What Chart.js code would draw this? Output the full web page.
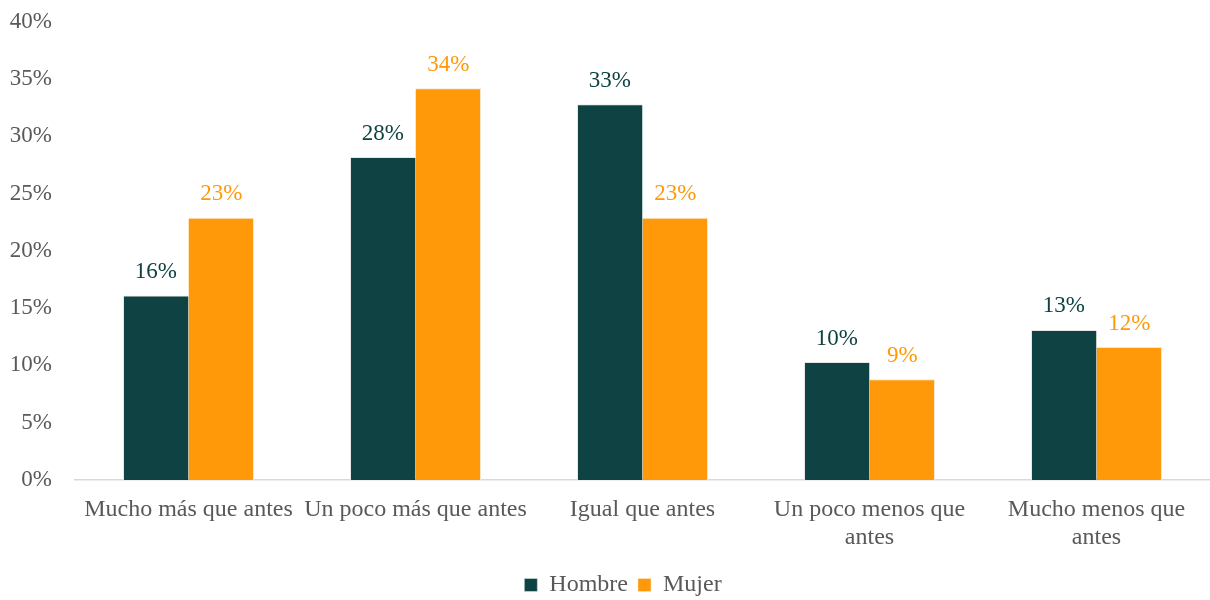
<!DOCTYPE html>
<html>
<head>
<meta charset="utf-8">
<script src="https://cdn.jsdelivr.net/npm/chart.js@4/dist/chart.umd.min.js"></script>
<style>
  html, body { margin: 0; padding: 0; background: #fff; overflow: hidden; }
  #wrap { width: 1210px; height: 622px; position: relative; margin-top: -15px; }
</style>
</head>
<body>
<div id="wrap"><canvas id="chartCambio"></canvas></div>
<script>
const categorias = [
  'Mucho más que antes',
  'Un poco más que antes',
  'Igual que antes',
  ['Un poco menos que', 'antes'],
  ['Mucho menos que', 'antes']
];
const hombre = [16.1, 28.2, 32.8, 10.3, 13.1];
const mujer = [22.9, 34.2, 22.9, 8.8, 11.6];
const ticksY = [0, 5, 10, 15, 20, 25, 30, 35, 40];

const VERDE = '#0F4242';
const NARANJA = '#FF990A';
const GRIS = '#595959';
const FUENTE = "'Liberation Serif', 'Times New Roman', serif";
const TAM = 23;

// etiquetas de valor encima de cada barra
const etiquetas = {
  id: 'etiquetas',
  afterLayout(chart) {
    // la leyenda va un poco a la derecha del centro
    chart.legend.left += 36;
  },
  afterDatasetsDraw(chart) {
    const ctx = chart.ctx;
    ctx.save();
    ctx.font = TAM + 'px ' + FUENTE;
    ctx.textAlign = 'center';
    ctx.textBaseline = 'bottom';
    chart.data.datasets.forEach((ds, i) => {
      const meta = chart.getDatasetMeta(i);
      ctx.fillStyle = ds.backgroundColor;
      meta.data.forEach((bar, j) => {
        ctx.fillText(Math.round(ds.data[j]) + '%', bar.x, bar.y - 12);
      });
    });
    ctx.restore();
  }
};

new Chart(document.getElementById('chartCambio'), {
  type: 'bar',
  data: {
    labels: categorias,
    datasets: [
      { label: 'Hombre', data: hombre, backgroundColor: VERDE, borderColor: '#e8e8e8', borderWidth: { top: 1, left: 1, right: 0, bottom: 0 } },
      { label: 'Mujer', data: mujer, backgroundColor: NARANJA, borderColor: '#f5e6cc', borderWidth: { top: 1, left: 0, right: 1, bottom: 0 } }
    ]
  },
  options: {
    responsive: true,
    maintainAspectRatio: false,
    animation: false,
    categoryPercentage: 0.577,
    barPercentage: 1,
    layout: { padding: 0 },
    plugins: {
      legend: {
        position: 'bottom',
        labels: {
          font: { family: FUENTE, size: 24 },
          color: GRIS,
          boxWidth: 13,
          boxHeight: 13,
          padding: 10
        }
      },
      tooltip: { enabled: false }
    },
    scales: {
      x: {
        grid: { display: false, drawTicks: false },
        border: { color: '#d9d9d9', width: 1.5 },
        ticks: {
          font: { family: FUENTE, size: 24 },
          color: GRIS,
          padding: 15,
          maxRotation: 0,
          autoSkip: false
        },
        afterFit(scale) { scale.height = 83; }
      },
      y: {
        min: 0,
        max: 40,
        afterBuildTicks(scale) { scale.ticks = ticksY.map(v => ({ value: v })); },
        grid: { display: false, drawTicks: false },
        border: { display: false },
        ticks: {
          font: { family: FUENTE, size: TAM },
          color: GRIS,
          padding: 23,
          callback: v => v + '%'
        },
        afterFit(scale) { scale.width = 75; }
      }
    }
  },
  plugins: [etiquetas]
});
</script>
</body>
</html>
